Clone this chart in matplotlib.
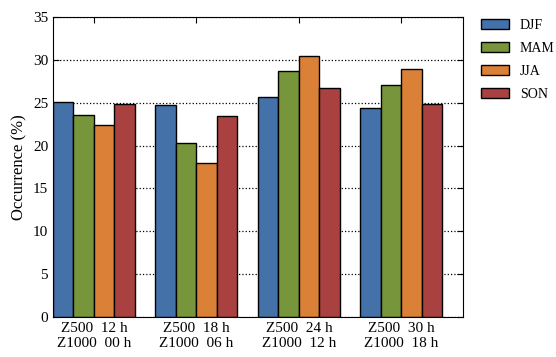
import numpy as np
import matplotlib.pyplot as plt

plt.rcParams['font.family'] = 'Liberation Serif'
plt.rcParams['font.size'] = 11

# Occurrence (%) by season for each lead time pair
groups = ["Z500  12 h\nZ1000  00 h", "Z500  18 h\nZ1000  06 h",
          "Z500  24 h\nZ1000  12 h", "Z500  30 h\nZ1000  18 h"]
seasons = ["DJF", "MAM", "JJA", "SON"]
djf = [25.1, 24.75, 25.7, 24.35]
mam = [23.6, 20.3, 28.75, 27.1]
jja = [22.35, 18.0, 30.5, 28.95]
son = [24.85, 23.45, 26.75, 24.8]
colors = ["#4471a7", "#77963b", "#db8037", "#a84140"]

fig = plt.figure(figsize=(5.56, 3.57), dpi=100)
ax = fig.add_axes([0.0953, 0.112, 0.7374, 0.8404])

x = np.arange(len(groups))
w = 0.2
for i, (vals, lab) in enumerate(zip([djf, mam, jja, son], seasons)):
    ax.bar(x + (i - 1.5) * w, vals, w, color=colors[i], edgecolor="black",
           linewidth=1.0, label=lab, zorder=2)

ax.set_xlim(-0.4, 3.6)
ax.set_ylim(0, 35)
ax.set_yticks(np.arange(0, 36, 5))
ax.set_xticks(x)
ax.set_xticklabels(groups)
ax.set_ylabel("Occurrence (%)", fontsize=12)
ax.yaxis.grid(True, linestyle=":", color="black", linewidth=0.9, zorder=0)
ax.set_axisbelow(True)
ax.tick_params(direction="in", top=True, right=True, length=4)

fig.legend(loc="upper left", bbox_to_anchor=(0.865, 0.946), frameon=False,
           fontsize=10, borderpad=0, borderaxespad=0, handlelength=2.0,
           handleheight=0.72, handletextpad=0.8, labelspacing=0.72)

fig.savefig("out.png", dpi=100)
